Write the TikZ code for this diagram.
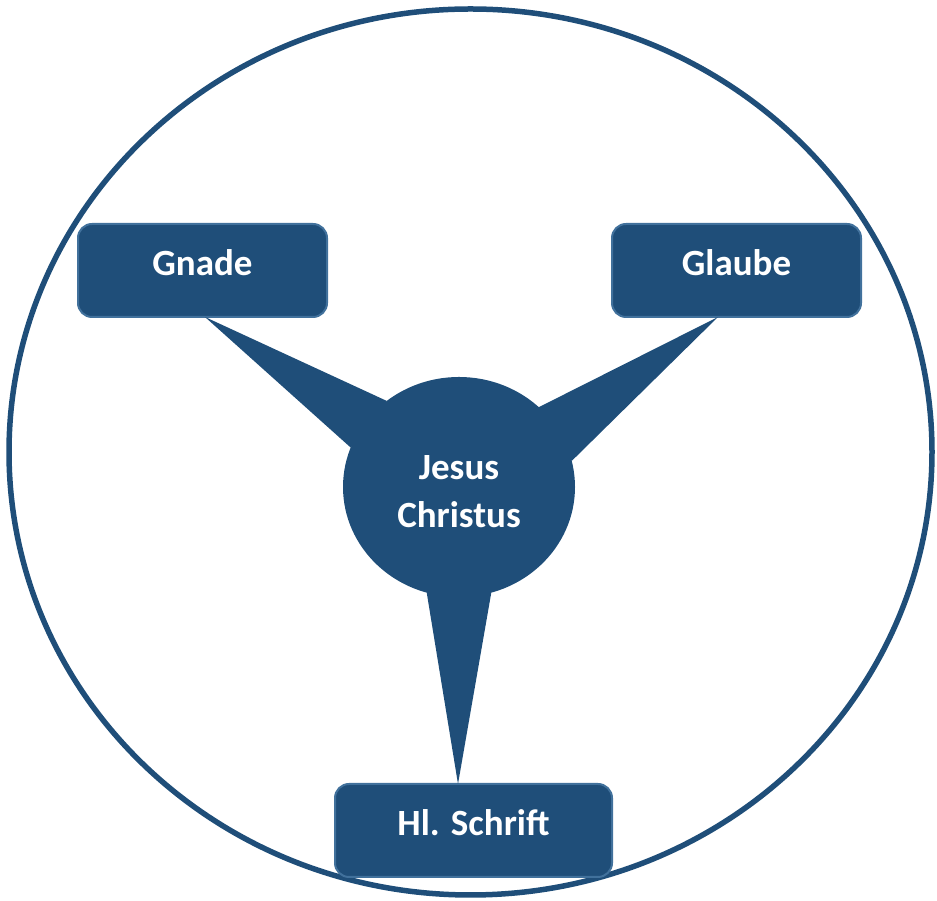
\documentclass[tikz,border=0pt]{standalone}
\usepackage{fontspec}
\setmainfont{Carlito}
\usetikzlibrary{shapes.geometric}
\definecolor{navy}{RGB}{31,78,121}
\definecolor{navyedge}{RGB}{65,113,156}

\begin{document}
\begin{tikzpicture}[x=1pt,y=1pt,
  pillar/.style={draw=navyedge,fill=navy,line width=2pt,rounded corners=14pt,
    minimum height=93pt,outer sep=0pt,text=white,
    font=\fontsize{37}{44}\selectfont\bfseries,text height=26pt,text depth=16pt},
  spoke/.style={fill=navy}]
  \useasboundingbox (0,0) rectangle (937,901);
  % outer ring
  \draw[navy,line width=5.5pt] (470.5,449) ellipse [x radius=461.5,y radius=443];
  % centre
  \node[ellipse,fill=navy,minimum width=232pt,minimum height=220pt,inner sep=0pt,
    outer sep=0pt] (jc) at (459,414) {};
  \node[text=white,align=center,font=\fontsize{37}{48}\selectfont\bfseries]
    (jctext) at ([yshift=-5pt]jc.center) {Jesus\\Christus};
  % the three pillars
  \node[pillar,minimum width=249pt] (gnade)  at (202.5,630.5) {Gnade};
  \node[pillar,minimum width=249pt] (glaube) at (736.5,630.5) {Glaube};
  \node[pillar,minimum width=277pt] (schrift) at (473.5,70.5) {Hl. Schrift};
  % spokes
  \fill[spoke] ([xshift=2.5pt]gnade.south) -- (jc.130) -- (jc.160) -- cycle;
  \fill[spoke] ([xshift=-18.5pt]glaube.south) -- (jc.45) -- (jc.13) -- cycle;
  \fill[spoke] ([xshift=-15.5pt]schrift.north) -- (jc.-107) -- (jc.-73) -- cycle;
\end{tikzpicture}
\end{document}
